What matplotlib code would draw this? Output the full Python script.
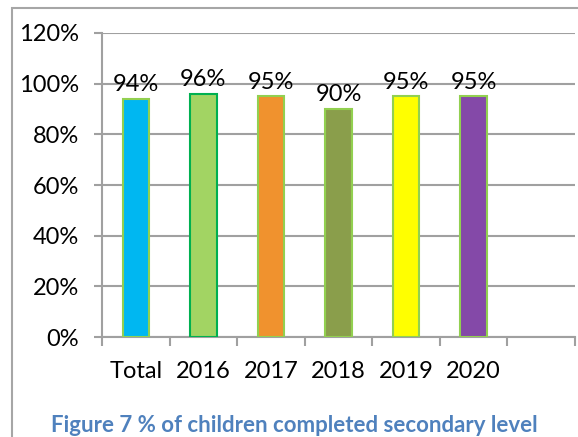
import matplotlib.pyplot as plt
from matplotlib.patches import Rectangle
from matplotlib.ticker import FuncFormatter

# данные
categories = ["Total", "2016", "2017", "2018", "2019", "2020", ""]
values = [94, 96, 95, 90, 95, 95]
bar_colors = ["#00B7F1", "#A2D463", "#F0922E", "#8A9E4B", "#FFFF00", "#8449A8"]
edge_colors = ["#92D050", "#00B050", "#92D050", "#92D050", "#92D050", "#92D050"]
caption = "Figure 7 % of children completed secondary level"

plt.rcParams['font.family'] = ['Lato', 'DejaVu Sans']

fig = plt.figure(figsize=(5.78, 4.37), dpi=100)
ax = fig.add_axes([0.1765, 0.2288, 0.8183, 0.6957])

# внешняя рамка
fig.patches.append(Rectangle((12 / 578, -0.1), 1.2, 1.1 - 8 / 437,
                             transform=fig.transFigure, fill=False,
                             edgecolor="#A6A6A6", linewidth=1.5))

x = range(len(values))
ax.bar(x, values, width=0.39, color=bar_colors, edgecolor=edge_colors,
       linewidth=1.5, zorder=3)
for xi, v in zip(x, values):
    ax.text(xi, v + 1.5, f"{v}%", ha="center", va="bottom", fontsize=17,
            color="black", zorder=4)

ax.set_xlim(-0.5, len(categories) - 0.5)
ax.set_ylim(0, 120)
ax.set_yticks(range(0, 121, 20))
ax.yaxis.set_major_formatter(FuncFormatter(lambda v, p: f"{int(v)}%"))
ax.set_xticks(range(len(categories)))
ax.set_xticklabels(categories)
ax.set_xticks([i - 0.5 for i in range(len(categories) + 1)], minor=True)
ax.tick_params(axis="x", which="major", length=0, pad=17, labelsize=17)
ax.tick_params(axis="x", which="minor", length=6.5, width=1.5, color="#A0A0A0")
ax.tick_params(axis="y", length=5.5, width=1.5, color="#A0A0A0", labelsize=17, pad=11)

ax.grid(axis="y", color="#A0A0A0", linewidth=1.5, zorder=0)
for s in ["top", "right"]:
    ax.spines[s].set_visible(False)
for s in ["left", "bottom"]:
    ax.spines[s].set_color("#A0A0A0")
    ax.spines[s].set_linewidth(1.5)

fig.text(0.51, 1 / 437, caption, ha="center", va="bottom", fontsize=16,
         fontweight="bold", color="#4F81BD")

fig.savefig("out.png", dpi=100)
